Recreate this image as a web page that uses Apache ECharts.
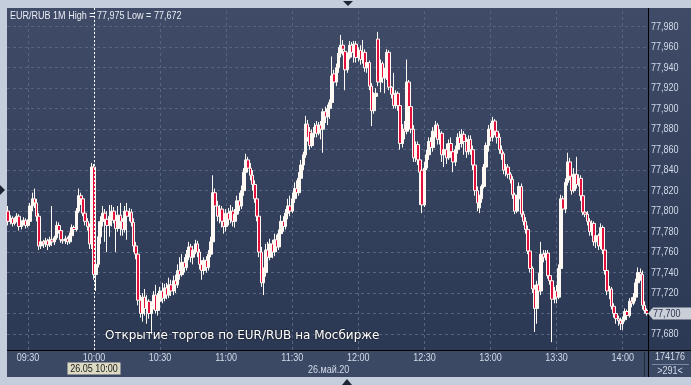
<!DOCTYPE html>
<html><head><meta charset="utf-8">
<script src="https://cdn.jsdelivr.net/npm/echarts@6/dist/echarts.min.js"></script>
<style>html,body{margin:0;padding:0;background:#c3cddb;}#c{width:691px;height:385px;}</style>
</head><body><div id="c"></div>
<script>
// ---- data (1-minute candles, EUR/RUB, 26.05.2020, from 09:21) ----
const startTime = '09:21';
const opens = [
77.800,77.790,77.793,77.788,77.792,77.795,77.785,77.789,77.791,77.786,
77.790,77.805,77.812,77.808,77.795,77.766,77.770,77.768,77.771,77.767,
77.772,77.770,77.774,77.786,77.781,77.772,77.771,77.773,77.770,77.776,
77.784,77.782,77.800,77.815,77.812,77.798,77.790,77.785,77.768,77.843,
77.738,77.748,77.775,77.790,77.798,77.792,77.786,77.795,77.800,77.791,
77.783,77.796,77.790,77.782,77.800,77.795,77.799,77.789,77.766,77.758,
77.713,77.700,77.716,77.705,77.712,77.700,77.708,77.718,77.703,77.712,
77.722,77.715,77.725,77.718,77.728,77.722,77.732,77.728,77.742,77.738,
77.750,77.745,77.758,77.765,77.755,77.762,77.768,77.760,77.748,77.742,
77.752,77.745,77.758,77.770,77.818,77.805,77.795,77.802,77.790,77.785,
77.798,77.792,77.800,77.790,77.797,77.810,77.805,77.820,77.838,77.850,
77.842,77.835,77.826,77.812,77.795,77.760,77.730,77.740,77.762,77.755,
77.768,77.760,77.772,77.765,77.778,77.790,77.785,77.798,77.805,77.800,
77.812,77.822,77.818,77.832,77.845,77.855,77.885,77.878,77.864,77.876,
77.884,77.876,77.884,77.880,77.897,77.892,77.900,77.906,77.934,77.926,
77.940,77.954,77.962,77.956,77.938,77.950,77.962,77.955,77.963,77.950,
77.957,77.948,77.955,77.940,77.945,77.922,77.898,77.912,77.968,77.926,
77.944,77.930,77.936,77.955,77.921,77.914,77.903,77.915,77.903,77.866,
77.880,77.878,77.926,77.902,77.880,77.852,77.865,77.850,77.840,77.806,
77.842,77.855,77.868,77.862,77.878,77.884,77.870,77.876,77.855,77.860,
77.852,77.866,77.858,77.848,77.860,77.872,77.866,77.875,77.868,77.858,
77.870,77.860,77.845,77.820,77.803,77.812,77.824,77.843,77.864,77.880,
77.872,77.888,77.878,77.872,77.860,77.856,77.840,77.843,77.836,77.831,
77.816,77.800,77.812,77.824,77.797,77.790,77.782,77.761,77.744,77.724,
77.705,77.728,77.722,77.758,77.755,77.759,77.737,77.732,77.714,77.722,
77.716,77.744,77.812,77.802,77.828,77.848,77.834,77.820,77.836,77.826,
77.832,77.815,77.799,77.797,77.790,77.780,77.788,77.770,77.776,77.766,
77.784,77.762,77.742,77.722,77.724,77.707,77.700,77.695,77.693,77.690,
77.694,77.702,77.698,77.712,77.710,77.716,77.730,77.740,77.738,77.708,77.703];
const closes = [
77.790,77.793,77.788,77.792,77.795,77.785,77.789,77.791,77.786,77.790,
77.805,77.812,77.808,77.795,77.766,77.770,77.768,77.771,77.767,77.772,
77.770,77.774,77.786,77.781,77.772,77.771,77.773,77.770,77.776,77.784,
77.782,77.800,77.815,77.812,77.798,77.790,77.785,77.768,77.843,77.738,
77.748,77.775,77.790,77.798,77.792,77.786,77.795,77.800,77.791,77.783,
77.796,77.790,77.782,77.800,77.795,77.799,77.789,77.766,77.758,77.713,
77.700,77.716,77.705,77.712,77.700,77.708,77.718,77.703,77.712,77.722,
77.715,77.725,77.718,77.728,77.722,77.732,77.728,77.742,77.738,77.750,
77.745,77.758,77.765,77.755,77.762,77.768,77.760,77.748,77.742,77.752,
77.745,77.758,77.770,77.818,77.805,77.795,77.802,77.790,77.785,77.798,
77.792,77.800,77.790,77.797,77.810,77.805,77.820,77.838,77.850,77.842,
77.835,77.826,77.812,77.795,77.760,77.730,77.740,77.762,77.755,77.768,
77.760,77.772,77.765,77.778,77.790,77.785,77.798,77.805,77.800,77.812,
77.822,77.818,77.832,77.845,77.855,77.885,77.872,77.864,77.876,77.882,
77.876,77.884,77.880,77.897,77.892,77.900,77.906,77.932,77.926,77.940,
77.954,77.962,77.958,77.938,77.950,77.962,77.955,77.963,77.950,77.957,
77.948,77.955,77.940,77.945,77.922,77.898,77.912,77.915,77.926,77.944,
77.930,77.936,77.955,77.921,77.914,77.903,77.915,77.903,77.866,77.880,
77.878,77.926,77.902,77.880,77.852,77.865,77.850,77.838,77.806,77.842,
77.855,77.868,77.862,77.878,77.884,77.870,77.876,77.855,77.860,77.852,
77.866,77.858,77.848,77.860,77.872,77.866,77.875,77.868,77.858,77.870,
77.860,77.845,77.820,77.808,77.812,77.824,77.843,77.864,77.880,77.872,
77.888,77.878,77.872,77.860,77.856,77.840,77.843,77.836,77.831,77.816,
77.800,77.812,77.824,77.797,77.790,77.782,77.761,77.744,77.724,77.705,
77.728,77.722,77.758,77.755,77.759,77.737,77.732,77.714,77.722,77.716,
77.744,77.812,77.802,77.828,77.848,77.834,77.820,77.836,77.826,77.832,
77.815,77.799,77.797,77.790,77.780,77.788,77.770,77.776,77.766,77.784,
77.762,77.742,77.722,77.724,77.707,77.700,77.695,77.693,77.690,77.694,
77.702,77.698,77.712,77.710,77.716,77.730,77.740,77.738,77.708,77.703,77.700];
const lows = [
77.786,77.787,77.785,77.786,77.789,77.781,77.782,77.786,77.783,77.784,
77.788,77.800,77.803,77.790,77.762,77.763,77.764,77.765,77.762,77.765,
77.766,77.767,77.772,77.778,77.769,77.768,77.768,77.767,77.768,77.774,
77.778,77.780,77.798,77.806,77.795,77.786,77.781,77.763,77.763,77.733,
77.722,77.745,77.768,77.785,77.770,77.760,77.775,77.785,77.788,77.760,
77.780,77.776,77.776,77.779,77.772,77.790,77.785,77.760,77.753,77.708,
77.696,77.692,77.698,77.690,77.695,77.680,77.704,77.700,77.698,77.708,
77.710,77.712,77.714,77.715,77.717,77.718,77.720,77.725,77.733,77.736,
77.740,77.742,77.752,77.750,77.748,77.758,77.755,77.743,77.733,77.738,
77.740,77.742,77.755,77.768,77.800,77.790,77.788,77.784,77.778,77.780,
77.786,77.788,77.785,77.784,77.794,77.800,77.802,77.815,77.834,77.838,
77.830,77.820,77.808,77.790,77.755,77.726,77.718,77.736,77.750,77.752,
77.754,77.756,77.760,77.762,77.775,77.780,77.782,77.792,77.795,77.798,
77.808,77.812,77.815,77.828,77.840,77.852,77.868,77.860,77.862,77.872,
77.872,77.874,77.870,77.857,77.886,77.884,77.890,77.900,77.922,77.922,
77.935,77.950,77.952,77.918,77.935,77.948,77.950,77.945,77.945,77.946,
77.943,77.944,77.936,77.935,77.918,77.883,77.895,77.906,77.922,77.916,
77.925,77.915,77.928,77.918,77.910,77.900,77.900,77.898,77.860,77.862,
77.870,77.875,77.898,77.876,77.848,77.848,77.845,77.806,77.798,77.804,
77.840,77.850,77.858,77.858,77.872,77.865,77.865,77.848,77.843,77.846,
77.850,77.852,77.838,77.844,77.856,77.860,77.862,77.855,77.852,77.855,
77.855,77.840,77.815,77.800,77.798,77.808,77.822,77.840,77.858,77.868,
77.868,77.874,77.866,77.856,77.850,77.836,77.834,77.832,77.827,77.812,
77.797,77.798,77.810,77.794,77.786,77.778,77.758,77.740,77.720,77.682,
77.690,77.716,77.718,77.750,77.752,77.734,77.728,77.672,77.710,77.710,
77.714,77.740,77.798,77.798,77.825,77.830,77.816,77.818,77.822,77.824,
77.810,77.796,77.794,77.786,77.776,77.776,77.766,77.764,77.762,77.763,
77.758,77.738,77.718,77.714,77.704,77.696,77.690,77.688,77.684,77.684,
77.692,77.694,77.696,77.706,77.708,77.712,77.726,77.732,77.704,77.700,77.698];
const highs = [
77.805,77.796,77.795,77.794,77.798,77.797,77.791,77.794,77.793,77.792,
77.808,77.818,77.822,77.812,77.798,77.773,77.772,77.774,77.773,77.775,
77.805,77.776,77.790,77.789,77.783,77.775,77.776,77.775,77.779,77.787,
77.786,77.803,77.822,77.818,77.815,77.801,77.793,77.788,77.847,77.846,
77.752,77.790,77.795,77.805,77.802,77.800,77.806,77.806,77.804,77.795,
77.805,77.808,77.793,77.805,77.808,77.803,77.802,77.793,77.770,77.762,
77.718,77.720,77.724,77.718,77.714,77.712,77.722,77.728,77.720,77.726,
77.730,77.729,77.730,77.735,77.733,77.737,77.738,77.748,77.755,77.758,
77.755,77.762,77.770,77.768,77.766,77.772,77.771,77.763,77.752,77.755,
77.756,77.762,77.775,77.835,77.822,77.810,77.806,77.805,77.796,77.802,
77.803,77.806,77.804,77.802,77.815,77.818,77.825,77.842,77.856,77.853,
77.847,77.840,77.830,77.816,77.798,77.765,77.745,77.768,77.770,77.773,
77.772,77.778,77.777,77.782,77.796,77.795,77.802,77.812,77.815,77.818,
77.828,77.830,77.838,77.850,77.858,77.893,77.889,77.882,77.880,77.886,
77.888,77.887,77.888,77.900,77.902,77.904,77.909,77.951,77.938,77.944,
77.960,77.972,77.967,77.958,77.955,77.966,77.965,77.966,77.966,77.960,
77.962,77.967,77.958,77.950,77.947,77.925,77.916,77.920,77.975,77.948,
77.946,77.940,77.958,77.957,77.922,77.935,77.918,77.917,77.905,77.885,
77.888,77.948,77.928,77.905,77.884,77.868,77.868,77.852,77.845,77.848,
77.860,77.872,77.872,77.882,77.888,77.886,77.880,77.878,77.864,77.866,
77.870,77.872,77.862,77.864,77.876,77.878,77.880,77.878,77.872,77.874,
77.874,77.864,77.848,77.824,77.816,77.826,77.846,77.867,77.884,77.886,
77.892,77.890,77.882,77.876,77.864,77.858,77.846,77.846,77.838,77.834,
77.818,77.816,77.828,77.827,77.800,77.794,77.786,77.772,77.746,77.728,
77.732,77.740,77.770,77.762,77.762,77.762,77.740,77.735,77.726,77.728,
77.748,77.816,77.815,77.832,77.857,77.852,77.840,77.842,77.853,77.836,
77.835,77.818,77.803,77.800,77.793,77.791,77.790,77.780,77.778,77.788,
77.786,77.765,77.745,77.727,77.726,77.710,77.702,77.698,77.696,77.697,
77.705,77.704,77.715,77.716,77.720,77.734,77.745,77.744,77.742,77.712,77.705];
const timeTicks = ['09:30','10:00','10:30','11:00','11:30','12:00','12:30','13:00','13:30','14:00'];
const priceTicks = [77.68,77.70,77.72,77.74,77.76,77.78,77.80,77.82,77.84,77.86,77.88,77.90,77.92,77.94,77.96,77.98];
const priceMin = 77.6644, priceMax = 77.9983;
const crossTime = '10:00';
const crossText = '26.05 10:00';
const dayText = '26.май.20';
const titleText = 'EUR/RUB 1M High = 77,975 Low = 77,672';
const noteText = 'Открытие торгов по EUR/RUB на Мосбирже';
const volText = '174176';
const barsText = '>291<';

// ---- build ----
const [sh, sm] = startTime.split(':').map(Number);
const categories = opens.map((_, i) => {
  const m = sh * 60 + sm + i;
  return String(Math.floor(m / 60)).padStart(2, '0') + ':' + String(m % 60).padStart(2, '0');
});
const candles = opens.map((o, i) => [o, closes[i], lows[i], highs[i]]);
const lastPrice = closes[closes.length - 1];
const fmt = v => v.toFixed(3).replace('.', ',');

const FONT = "11px 'Liberation Sans', Arial, sans-serif";
const SX = 0.82;               // narrow UI font look
const TXT = '#d3dbea';
const GRID = '#56647f';

const chart = echarts.init(document.getElementById('c'), null, {renderer: 'canvas', width: 691, height: 385});
chart.setOption({
  animation: false,
  backgroundColor: '#c3cddb',
  grid: {left: 7, top: 8, width: 641, height: 342, show: false},
  xAxis: {
    type: 'category', data: categories, boundaryGap: true,
    axisLine: {show: false}, axisTick: {show: false}, splitLine: {show: false}, axisLabel: {show: false}
  },
  yAxis: {type: 'value', position: 'right', min: priceMin, max: priceMax, scale: true, show: false},
  series: [
    {
      type: 'line', data: closes, symbol: 'none', showSymbol: false, silent: true, z: 1,
      lineStyle: {opacity: 0, width: 0},
      markLine: {
        silent: true, symbol: ['none', 'none'], z: 1, animation: false,
        lineStyle: {color: GRID, type: [3, 3], width: 1},
        label: {show: false},
        data: [
          ...priceTicks.map(v => ({yAxis: v})),
          ...timeTicks.map(t => ({xAxis: t}))
        ]
      }
    },
    {
      type: 'candlestick', data: candles, z: 3, barWidth: 3, clip: true,
      itemStyle: {color: '#fffaf4', color0: '#e3103e', borderColor: '#fffaf4', borderColor0: '#fffaf4', borderWidth: 1},
      markLine: {
        silent: true, symbol: ['none', 'none'], z: 6, animation: false,
        lineStyle: {color: '#ffffff', type: [2, 2], width: 1},
        label: {show: false},
        data: [{xAxis: crossTime}]
      }
    }
  ],
  graphic: [
    {type: 'rect', id: 'bg', z: -1, silent: true, shape: {x: 7, y: 8, width: 684, height: 369},
     style: {fill: {type: 'linear', x: 0, y: 0, x2: 0, y2: 1, colorStops: [{offset: 0, color: '#3f4b67'}, {offset: 1, color: '#2a3752'}]}}},
    {type: 'rect', id: 'bgBottom', z: -1, silent: true, shape: {x: 7, y: 351, width: 684, height: 26}, style: {fill: '#3c4965'}},
    {type: 'line', id: 'hLine', z: 50, silent: true, shape: {x1: 7, y1: 350.5, x2: 691, y2: 350.5}, style: {stroke: '#000', lineWidth: 1}},
    {type: 'line', id: 'vLine', z: 50, silent: true, shape: {x1: 648.5, y1: 8, x2: 648.5, y2: 377}, style: {stroke: '#000', lineWidth: 1}},
    {type: 'line', id: 'sep', z: 50, silent: true, shape: {x1: 644.5, y1: 352, x2: 644.5, y2: 377}, style: {stroke: '#222a3b', lineWidth: 1}},
    {type: 'line', id: 'boxSep', z: 50, silent: true, shape: {x1: 652, y1: 364.5, x2: 689, y2: 364.5}, style: {stroke: '#7a88a6', lineWidth: 1}},
    {type: 'polygon', id: 'triTop', z: 50, silent: true, shape: {points: [[343, 1], [353, 1], [348, 6]]}, style: {fill: '#1d2536'}},
    {type: 'polygon', id: 'triBottom', z: 50, silent: true, shape: {points: [[342, 385], [352, 385], [347, 379]]}, style: {fill: '#1d2536'}},
    {type: 'polygon', id: 'triLeft', z: 50, silent: true, shape: {points: [[0, 185], [0, 195], [5, 190]]}, style: {fill: '#1d2536'}}
  ]
});

// ---- texts placed through the chart's own scales ----
function txt(id, x, y, text, fill, align, extra) {
  return Object.assign({type: 'text', id, x, y, scaleX: SX, z: 55, silent: true,
    style: {x: 0, y: 0, text, fill, font: FONT, align: align || 'left', verticalAlign: 'middle'}}, extra || {});
}
const g = [];
priceTicks.forEach((v, i) => g.push(txt('py' + i, 651, chart.convertToPixel({yAxisIndex: 0}, v), fmt(v), TXT)));
timeTicks.forEach((t, i) => g.push(txt('tx' + i, chart.convertToPixel({xAxisIndex: 0}, t), 358, t, TXT, 'center')));
const cx = chart.convertToPixel({xAxisIndex: 0}, crossTime);
g.push({type: 'rect', id: 'crossBox', z: 54, silent: true, shape: {x: cx - 26.5, y: 362.5, width: 53, height: 12}, style: {fill: '#dddbc3'}});
g.push(txt('crossTxt', cx, 368.7, crossText, '#1c1c1c', 'center'));
g.push(txt('title', 10, 16, titleText, '#e9edf5'));
g.push(txt('day', 308, 370, dayText, TXT));
g.push(txt('vol', 670, 357, volText, TXT, 'center'));
g.push(txt('bars', 670, 371, barsText, TXT, 'center'));
g.push({type: 'text', id: 'note', z: 55, silent: true,
  style: {x: 105, y: 336, text: noteText, fill: '#ffffff', font: '12px "DejaVu Sans"', verticalAlign: 'middle',
          textShadowColor: 'rgba(0,0,0,0.9)', textShadowBlur: 2}});
const ty = chart.convertToPixel({yAxisIndex: 0}, lastPrice);
g.push({type: 'polygon', id: 'tagShape', z: 60, silent: true,
  shape: {points: [[648, ty], [653, ty - 6], [691, ty - 6], [691, ty + 6], [653, ty + 6]]}, style: {fill: '#c9ced7'}});
g.push(txt('tagText', 653, ty, fmt(lastPrice), '#2a3653', 'left', {z: 61}));
chart.setOption({graphic: g});
</script>
</body></html>
